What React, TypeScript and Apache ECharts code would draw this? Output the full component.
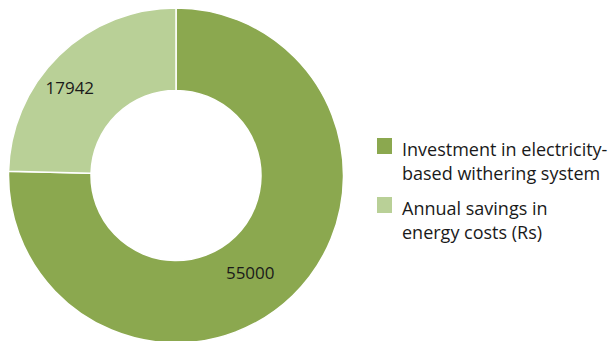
import React, { useEffect, useRef } from "react";
import * as echarts from "echarts";

const categories = [
  "Investment in electricity-\nbased withering system",
  "Annual savings in\nenergy costs (Rs)",
];
const values = [55000, 17942];
const colors = ["#8BA84F", "#B9D097"];

export default function App() {
  const ref = useRef<HTMLDivElement>(null);
  useEffect(() => {
    if (!ref.current) return;
    const chart = echarts.init(ref.current, null, { renderer: "svg" });
    const font = "Open Sans";
    const legendTops = [117.5, 176.5];
    chart.setOption({
      animation: false,
      color: colors,
      legend: categories.map((c, i) => ({
        data: [c],
        left: 377,
        top: legendTops[i],
        orient: "vertical",
        padding: 0,
        itemWidth: 20,
        itemHeight: 16,
        icon: "path://M0,0H15V16H0Z M20,16",
        selectedMode: false,
        formatter: (name: string) =>
          "{s| }\n" + name.split("\n").map((l) => "{a|" + l + "}").join("\n"),
        textStyle: {
          color: "#1a1a1a",
          fontFamily: font,
          fontSize: 18,
          rich: {
            s: { fontSize: 10, lineHeight: 29.5, fontFamily: font },
            a: { color: "#1a1a1a", fontFamily: font, fontSize: 18, lineHeight: 23.5 },
          },
        },
        itemStyle: { borderWidth: 0 },
      })),
      series: [
        {
          type: "pie",
          center: [176, 175.5],
          radius: [85, 167.5],
          startAngle: 90,
          clockwise: true,
          avoidLabelOverlap: false,
          itemStyle: { borderColor: "#ffffff", borderWidth: 1.5 },
          label: {
            show: true,
            position: "inside",
            formatter: "{c}",
            color: "#1a1a1a",
            fontFamily: font,
            fontSize: 17,
            offset: [-16, 4.5],
          },
          labelLine: { show: false },
          emphasis: { disabled: true },
          data: categories.map((c, i) => ({ name: c, value: values[i] })),
        },
      ],
    });
    return () => chart.dispose();
  }, []);
  return (
    <div
      ref={ref}
      style={{ position: "fixed", left: 0, top: 0, width: 608, height: 341, background: "#fff" }}
    />
  );
}
